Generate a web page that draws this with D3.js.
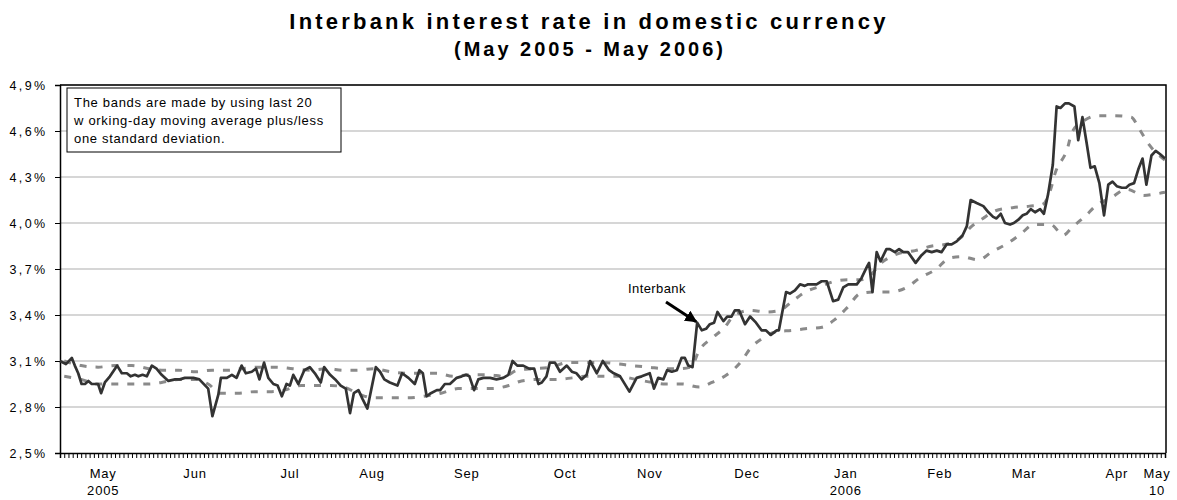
<!DOCTYPE html>
<html>
<head>
<meta charset="utf-8">
<script src="https://cdn.jsdelivr.net/npm/d3@7"></script>
<style>
  body { margin: 0; background: #fff; }
  svg { font-family: Arial, "Liberation Sans", sans-serif; }
</style>
</head>
<body>
<div id="chart"></div>
<script>
// working days, May 2005 - May 10 2006 (index 0 .. 261)
var nDays = 262;

// interbank rate, [working day, %]
var interbank = [
  [0,3.10],[1.4,3.08],[2.8,3.12],[3.5,3.07],[4.3,3.02],[5.1,2.95],[5.9,2.95],[6.7,2.97],[7.5,2.95],[8.3,2.95],
  [9.0,2.95],[9.7,2.89],[10.6,2.96],[11.8,3.00],[13.0,3.05],[13.5,3.07],[14.6,3.02],[15.8,3.02],[16.7,3.00],[17.7,3.01],
  [18.5,3.00],[19.5,3.01],[20.5,3.00],[21.7,3.07],[22.8,3.05],[24.0,3.01],[25.6,2.97],[27.2,2.98],[28.3,2.98],[29.5,2.99],
  [31.5,2.99],[32.9,2.98],[35.0,2.92],[36.0,2.74],[37.4,2.88],[38.0,2.99],[39.4,2.99],[40.6,3.01],[41.7,2.99],[42.9,3.07],
  [43.9,3.02],[45.3,3.03],[46.3,3.05],[47.1,2.98],[48.2,3.09],[49.2,2.99],[50.4,2.95],[51.4,2.94],[52.4,2.87],[53.5,2.95],
  [54.3,2.94],[55.1,3.01],[56.3,2.95],[57.7,3.04],[59.0,3.06],[60.2,3.02],[61.6,2.96],[62.4,3.06],[63.8,3.01],[65.0,2.98],
  [66.3,2.94],[67.5,2.92],[68.5,2.76],[69.4,2.89],[70.5,2.91],[71.5,2.85],[72.6,2.79],[74.6,3.06],[75.6,3.03],[76.6,2.98],
  [77.9,2.96],[79.7,2.94],[80.8,3.02],[82.3,2.99],[83.8,2.95],[84.9,3.04],[85.7,3.02],[86.6,2.87],[87.6,2.89],[89.0,2.91],
  [89.8,2.91],[90.9,2.95],[92.1,2.95],[93.7,2.99],[94.9,3.00],[95.9,3.01],[96.7,3.00],[97.8,2.91],[98.8,2.98],[100.0,2.99],
  [101.6,2.99],[103.1,2.98],[104.7,2.99],[105.9,3.01],[106.9,3.10],[108.0,3.07],[109.4,3.07],[110.8,3.05],[112.0,3.05],[113.0,2.95],
  [113.8,2.96],[114.9,3.00],[115.7,3.09],[116.9,3.09],[118.1,3.03],[119.7,3.07],[120.9,3.03],[122.0,3.02],[123.2,2.98],[124.4,3.01],
  [125.2,3.10],[126.8,3.02],[128.2,3.10],[129.7,3.04],[130.8,3.02],[132.3,3.00],[134.5,2.90],[136.2,2.99],[137.4,3.00],[139.3,3.02],
  [140.3,2.92],[141.3,2.99],[142.5,2.98],[143.4,3.04],[144.5,3.03],[145.7,3.04],[146.8,3.12],[147.6,3.12],[148.4,3.07],[149.4,3.06],
  [150.5,3.35],[151.6,3.30],[152.6,3.31],[153.5,3.34],[154.5,3.35],[155.3,3.42],[156.7,3.36],[157.6,3.39],[158.6,3.39],[159.4,3.43],
  [160.4,3.43],[161.8,3.34],[163.0,3.39],[164.4,3.35],[165.7,3.30],[166.7,3.30],[167.9,3.27],[169.3,3.30],[169.8,3.30],[171.5,3.55],
  [172.4,3.54],[173.6,3.56],[174.8,3.60],[175.9,3.59],[176.7,3.60],[178.7,3.60],[179.9,3.62],[181.1,3.62],[182.6,3.49],[183.8,3.50],
  [185.0,3.58],[186.2,3.60],[188.2,3.60],[189.3,3.64],[190.7,3.72],[191.1,3.74],[191.9,3.55],[192.9,3.81],[193.8,3.75],[195.2,3.83],
  [196.0,3.83],[197.2,3.81],[198.2,3.83],[199.2,3.81],[200.3,3.81],[202.1,3.74],[203.5,3.79],[204.7,3.82],[205.9,3.81],[207.1,3.82],
  [208.2,3.81],[209.4,3.86],[210.6,3.86],[211.8,3.88],[213.2,3.92],[214.2,3.98],[215.1,4.15],[216.5,4.13],[218.1,4.11],[219.3,4.07],
  [220.4,4.04],[221.2,4.03],[222.2,4.06],[223.2,4.00],[224.4,3.99],[225.3,4.00],[226.3,4.02],[227.4,4.05],[228.3,4.06],[229.3,4.09],
  [230.3,4.07],[231.5,4.09],[232.4,4.06],[233.4,4.19],[234.5,4.38],[235.4,4.76],[236.3,4.75],[237.4,4.78],[238.3,4.78],[239.6,4.76],
  [240.5,4.54],[241.5,4.69],[242.5,4.52],[243.4,4.36],[244.4,4.37],[245.5,4.26],[246.6,4.05],[247.6,4.25],[248.6,4.27],[249.6,4.24],
  [250.8,4.23],[251.8,4.23],[252.6,4.25],[253.7,4.26],[254.7,4.35],[255.7,4.42],[256.6,4.25],[257.8,4.44],[258.8,4.47],[259.8,4.45],
  [261,4.42]
];

// moving average + 1 std dev
var upperBand = [
  [1,3.10],[5,3.07],[9,3.06],[13,3.07],[17,3.07],[21,3.05],[24,3.04],[28,3.04],[32,3.03],[36,3.04],
  [40,3.04],[43,3.05],[47,3.06],[51,3.06],[55,3.05],[59,3.04],[63,3.05],[67,3.04],[70,3.04],[74,3.05],
  [78,3.03],[82,3.02],[85,3.02],[89,3.02],[93,3.00],[97,3.01],[101,3.01],[105,3.00],[108,3.04],[112,3.05],
  [116,3.06],[120,3.09],[124,3.09],[128,3.09],[132,3.08],[135,3.07],[139,3.06],[143,3.05],[146,3.05],[149,3.06],
  [151,3.17],[154,3.25],[157,3.32],[159,3.39],[163,3.43],[167,3.42],[170,3.43],[173,3.49],[176,3.55],[180,3.59],
  [183,3.62],[186,3.63],[189,3.63],[191,3.65],[194,3.74],[198,3.80],[202,3.82],[206,3.85],[209,3.86],[213,3.91],
  [215,3.97],[218,4.03],[221,4.08],[225,4.10],[229,4.11],[232,4.12],[234,4.22],[235,4.32],[238,4.49],[239,4.59],
  [242,4.67],[245,4.70],[249,4.70],[253,4.69],[255,4.61],[257,4.52],[261,4.41]
];

// moving average - 1 std dev
var lowerBand = [
  [1,3.00],[5,2.98],[9,2.95],[13,2.95],[17,2.95],[21,2.95],[24,2.96],[28,2.98],[32,2.98],[35,2.95],
  [38,2.89],[42,2.89],[46,2.90],[50,2.90],[53,2.91],[57,2.94],[60,2.94],[64,2.94],[67,2.93],[71,2.88],
  [74,2.86],[78,2.86],[82,2.86],[86,2.87],[90,2.89],[94,2.92],[98,2.92],[102,2.92],[106,2.94],[109,2.97],
  [113,2.98],[117,2.98],[121,2.99],[124,3.00],[128,3.00],[132,3.00],[136,2.98],[140,2.96],[143,2.95],[147,2.95],
  [151,2.93],[154,2.96],[158,3.02],[161,3.10],[163,3.18],[166,3.25],[169,3.29],[173,3.30],[176,3.31],[180,3.32],
  [183,3.37],[186,3.45],[189,3.54],[192,3.55],[196,3.55],[200,3.58],[203,3.64],[207,3.70],[210,3.77],[213,3.78],
  [217,3.76],[220,3.81],[224,3.87],[227,3.93],[230,3.99],[234,3.99],[237,3.92],[239,3.97],[242,4.04],[245,4.12],
  [248,4.16],[252,4.22],[256,4.18],[259,4.19],[261,4.20]
];

var yTicks = [2.5, 2.8, 3.1, 3.4, 3.7, 4.0, 4.3, 4.6, 4.9];
var monthLabels = ["May", "Jun", "Jul", "Aug", "Sep", "Oct", "Nov", "Dec", "Jan", "Feb", "Mar", "Apr", "May"];
var monthSub = ["2005", "", "", "", "", "", "", "", "2006", "", "", "", "10"];
var monthDay = [10.2, 31.9, 54.3, 73.7, 96.1, 119.3, 139.3, 162.3, 185.6, 207.8, 227.7, 249.6, 259.1];

var noteLines = [
  "The bands are made by using last 20",
  "w orking-day moving average plus/less",
  "one standard deviation."
];

var width = 1177, height = 500;
var margin = { top: 85, right: 11, bottom: 47, left: 60 };

var svg = d3.select("#chart").append("svg")
  .attr("width", width)
  .attr("height", height);

// titles
svg.append("text")
  .attr("x", 589).attr("y", 29)
  .attr("text-anchor", "middle")
  .style("font-size", "22px").style("font-weight", "bold")
  .style("letter-spacing", "3.2px")
  .text("Interbank interest rate in domestic currency");
svg.append("text")
  .attr("x", 590).attr("y", 56)
  .attr("text-anchor", "middle")
  .style("font-size", "20px").style("font-weight", "bold")
  .style("letter-spacing", "3px")
  .text("(May 2005 - May 2006)");

var x = d3.scaleLinear().domain([0, nDays - 1]).range([margin.left, width - margin.right - 1]);
var y = d3.scaleLinear().domain([2.5, 4.9]).range([height - margin.bottom, margin.top]);

// grid lines
svg.append("g").selectAll("line")
  .data(yTicks.slice(1))
  .enter().append("line")
  .attr("x1", margin.left).attr("x2", width - margin.right)
  .attr("y1", function (d) { return y(d); })
  .attr("y2", function (d) { return y(d); })
  .attr("stroke", "#c8c8c8").attr("stroke-width", 1.5);

// plot frame top/right
svg.append("path")
  .attr("d", "M" + margin.left + "," + y(4.9) + "H" + (width - margin.right) + "V" + y(2.5))
  .attr("fill", "none").attr("stroke", "#000").attr("stroke-width", 1.5);

// y axis
var yAxis = svg.append("g")
  .attr("transform", "translate(" + margin.left + ",0)")
  .call(d3.axisLeft(y).tickValues(yTicks).tickSize(5)
    .tickFormat(function (d) { return d.toFixed(1).replace(".", ",") + "%"; }));
yAxis.select(".domain").attr("stroke", "#000").attr("stroke-width", 1.5);
yAxis.selectAll("text")
  .style("font-size", "12.5px")
  .style("letter-spacing", "2.4px")
  .style("font-family", "Arial, 'Liberation Sans', sans-serif")
  .attr("fill", "#000").attr("x", -12.5);

// x axis: one tick per working day
var xAxis = svg.append("g")
  .attr("transform", "translate(0," + y(2.5) + ")")
  .call(d3.axisBottom(x).tickValues(d3.range(nDays)).tickSize(5).tickFormat(""));
xAxis.select(".domain").attr("stroke", "#000").attr("stroke-width", 1.5);
xAxis.selectAll(".tick line").attr("stroke", "#000");

var mLab = svg.append("g").selectAll("g")
  .data(monthLabels)
  .enter().append("g")
  .attr("transform", function (d, i) { return "translate(" + x(monthDay[i]) + "," + y(2.5) + ")"; });
mLab.append("text")
  .attr("y", 25).attr("text-anchor", "middle")
  .style("font-size", "13px").style("letter-spacing", "0.8px")
  .text(function (d) { return d; });
mLab.append("text")
  .attr("y", 42).attr("text-anchor", "middle")
  .style("font-size", "13px").style("letter-spacing", "0.8px")
  .text(function (d, i) { return monthSub[i]; });

// lines
var line = d3.line()
  .x(function (d) { return x(d[0]); })
  .y(function (d) { return y(d[1]); });

[upperBand, lowerBand].forEach(function (band) {
  svg.append("path")
    .datum(band)
    .attr("d", line.curve(d3.curveMonotoneX))
    .attr("fill", "none")
    .attr("stroke", "#8a8a8a")
    .attr("stroke-width", 3)
    .attr("stroke-dasharray", "7,9");
});

svg.append("path")
  .datum(interbank)
  .attr("d", line.curve(d3.curveLinear))
  .attr("fill", "none")
  .attr("stroke", "#333")
  .attr("stroke-width", 2.7)
  .attr("stroke-linejoin", "round");

// note box
var note = svg.append("g").attr("transform", "translate(67,88)");
note.append("rect")
  .attr("width", 274).attr("height", 64)
  .attr("fill", "#fff").attr("stroke", "#000").attr("stroke-width", 1);
note.selectAll("text")
  .data(noteLines)
  .enter().append("text")
  .attr("x", 7)
  .attr("y", function (d, i) { return 19 + i * 18; })
  .style("font-size", "13px").style("letter-spacing", "0.7px")
  .text(function (d) { return d; });

// annotation
svg.append("defs").append("marker")
  .attr("id", "arrow")
  .attr("viewBox", "0 0 10 10")
  .attr("refX", 9).attr("refY", 5)
  .attr("markerWidth", 4).attr("markerHeight", 4)
  .attr("orient", "auto")
  .append("path").attr("d", "M0,0L10,5L0,10z").attr("fill", "#000");

svg.append("text")
  .attr("x", 628).attr("y", 293)
  .style("font-size", "13px").style("letter-spacing", "0.4px")
  .text("Interbank");
svg.append("line")
  .attr("x1", 666).attr("y1", 302)
  .attr("x2", x(150.5) - 1).attr("y2", y(3.35) - 1)
  .attr("stroke", "#000").attr("stroke-width", 3)
  .attr("marker-end", "url(#arrow)");
</script>
</body>
</html>
